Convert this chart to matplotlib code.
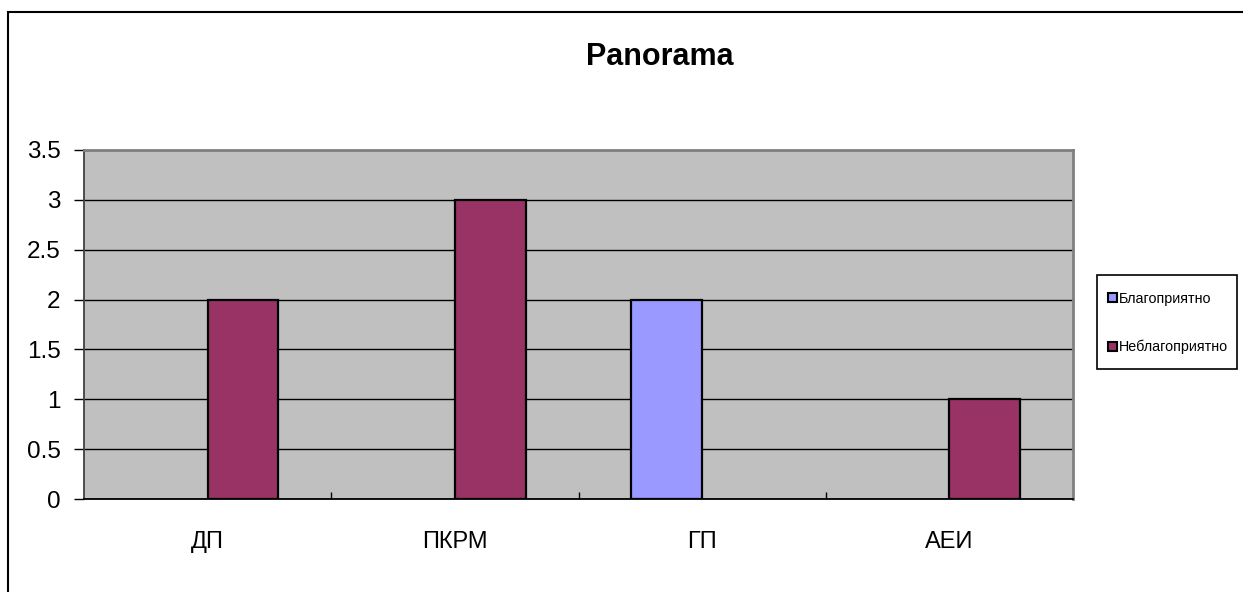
import numpy as np
import matplotlib
matplotlib.use('Agg')
import matplotlib.pyplot as plt
from matplotlib.patches import Rectangle

plt.rcParams['font.family'] = ['Liberation Sans', 'DejaVu Sans']

categories = ['ДП', 'ПКРМ', 'ГП', 'АЕИ']
series_names = ['Благоприятно', 'Неблагоприятно']
favourable = [0, 0, 2, 0]
unfavourable = [2, 3, 0, 1]
colors = ['#9999FF', '#993366']
y_ticks = [0, 0.5, 1, 1.5, 2, 2.5, 3, 3.5]

W, H = 1243, 592
fig = plt.figure(figsize=(W / 100, H / 100), dpi=100)
ax = fig.add_axes([84 / W, 1 - 499 / H, (1073 - 84) / W, (499 - 150) / H])
ax.set_facecolor('#C0C0C0')

x = np.arange(len(categories))
w = 1 / 3.5
for i, (vals, name) in enumerate(zip([favourable, unfavourable], series_names)):
    vals = np.array(vals, dtype=float)
    keep = vals > 0  # zero bars draw nothing in the original
    off = (i - 0.5) * w
    ax.bar(x[keep] + off, vals[keep], width=w, color=colors[i], edgecolor='black',
           linewidth=1.6, label=name, zorder=3)

ax.set_xlim(-0.5, len(categories) - 0.5)
ax.set_ylim(0, 3.5)
ax.set_yticks(y_ticks)
ax.set_yticklabels([('%g' % v) for v in y_ticks])
ax.yaxis.grid(True, color='black', linewidth=1, zorder=1)
ax.set_axisbelow(True)

# category labels at centres, small inward ticks at the boundaries
ax.set_xticks(x)
ax.set_xticklabels(categories)
ax.tick_params(axis='x', length=0, pad=23, labelsize=17)
ax.set_xticks(np.arange(0.5, len(categories) - 0.5), minor=True)
ax.tick_params(axis='x', which='minor', direction='in', length=5, width=1, color='black')
ax.tick_params(axis='y', direction='out', length=7, width=1, pad=10, labelsize=17.5)

for s in ['top', 'right']:
    ax.spines[s].set_color('#808080')
    ax.spines[s].set_linewidth(2)
ax.spines['left'].set_color('#404040')
ax.spines['left'].set_linewidth(1.3)
ax.spines['bottom'].set_color('black')
ax.spines['bottom'].set_linewidth(1.3)

fig.text(660 / W, 1 - 57 / H, 'Panorama', ha='center', va='center',
         fontsize=22, fontweight='bold')

# legend
leg = fig.legend(loc='center left', bbox_to_anchor=(1101 / W, 1 - 323 / H),
                 frameon=False, fontsize=10.3, handlelength=0.6, handleheight=0.6,
                 handletextpad=0.15, labelspacing=2.4, borderpad=0)
for h in leg.legend_handles:
    h.set_linewidth(1.5)
fig.add_artist(Rectangle((1097 / W, 1 - 369 / H), 140 / W, 94 / H,
                         transform=fig.transFigure, fill=False,
                         edgecolor='black', linewidth=1.2))

# chart area border
fig.add_artist(Rectangle((8 / W, -0.05), 1.2, 1.05 - 12 / H,
                         transform=fig.transFigure, fill=False,
                         edgecolor='black', linewidth=1.5))

fig.savefig('out.png', dpi=100)
